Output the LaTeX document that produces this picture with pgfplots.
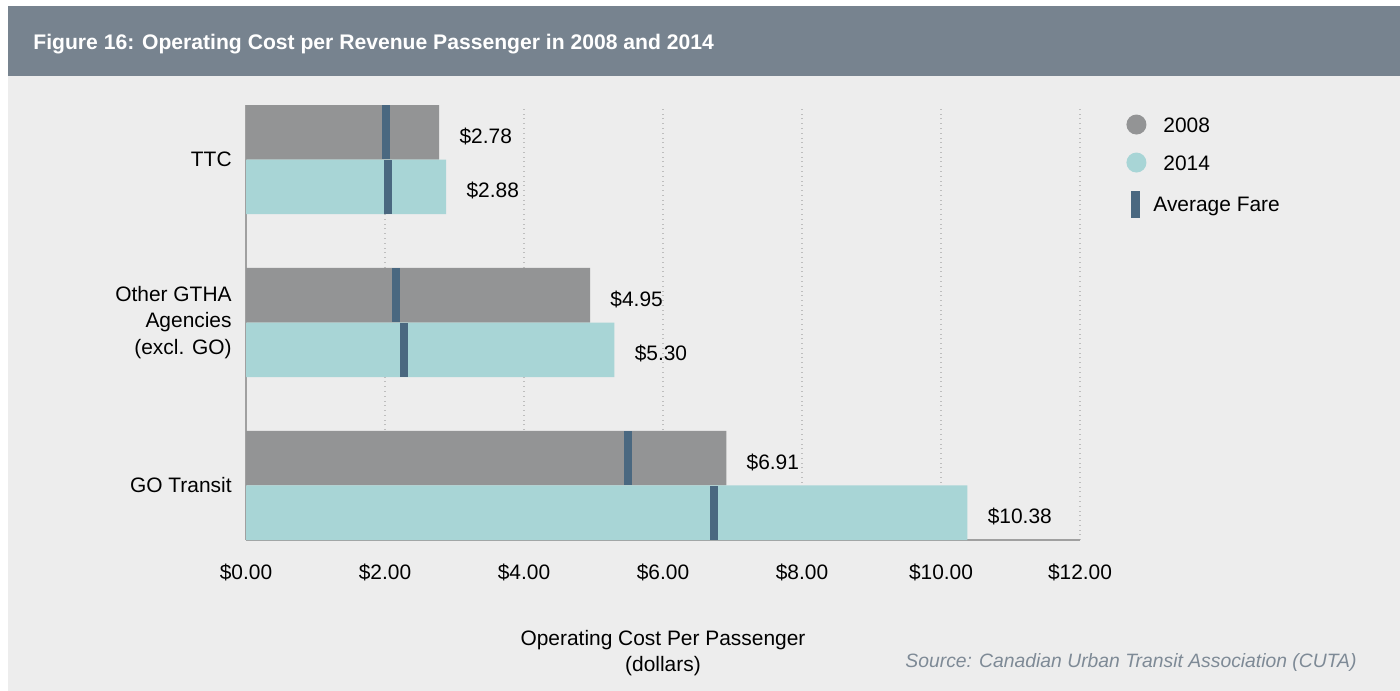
\documentclass[border=0pt]{standalone}
\usepackage{fontspec}
\setmainfont{Liberation Sans}
\usepackage{pgfplots}
\pgfplotsset{compat=1.18}

\definecolor{hdr}{RGB}{119,131,143}
\definecolor{bgc}{RGB}{237,237,237}
\definecolor{c08}{RGB}{147,148,149}
\definecolor{c14}{RGB}{168,213,214}
\definecolor{fare}{RGB}{74,104,128}
\definecolor{gridc}{RGB}{190,190,190}
\definecolor{axisc}{RGB}{160,160,160}
\definecolor{srcc}{RGB}{126,138,150}

% average fare tick: 8px wide, full bar height
\pgfdeclareplotmark{farebar}{%
  \pgfpathrectangle{\pgfpoint{-2bp}{-13.6bp}}{\pgfpoint{4bp}{27.2bp}}%
  \pgfusepathqfill}

\begin{document}
\begin{tikzpicture}
\useasboundingbox (0,0) rectangle (700bp,-345.5bp);
\fill[white] (0,0) rectangle (700bp,-345.5bp);
\fill[bgc] (4bp,-3bp) rectangle (700bp,-345.5bp);
\fill[hdr] (4bp,-3bp) rectangle (700bp,-38bp);
\node[anchor=base west, text=white, inner sep=0pt,
  font=\fontsize{10.6}{12}\selectfont\bfseries] at (16.5bp,-24.5bp)
  {Figure 16: Operating Cost per Revenue Passenger in 2008 and 2014};

\begin{axis}[
  at={(123bp,-270bp)}, anchor=south west,
  scale only axis, width=417bp, height=217.5bp,
  xmin=0, xmax=12, ymin=-0.335, ymax=2.335,
  clip=false,
  axis x line*=bottom, axis y line*=left,
  axis line style={draw=axisc, line width=0.6bp, -},
  xtick={0,2,...,12}, ytick={0,1,2},
  major tick length=0pt,
  xmajorgrids, ymajorgrids=false,
  major grid style={gridc, dotted, line width=0.6bp},
  /pgf/number format/assume math mode=true,
  xticklabel={\$\pgfmathprintnumber[fixed,fixed zerofill,precision=2]{\tick}},
  xticklabel style={anchor=base, inner sep=0pt, yshift=-19.5bp},
  yticklabels={GO Transit,{Other GTHA\\Agencies\\(excl. GO)},TTC},
  yticklabel style={anchor=east, inner sep=0pt, xshift=-7bp, align=right},
  ticklabel style={font=\fontsize{10.5}{13.5}\selectfont},
  xlabel={Operating Cost Per Passenger\\(dollars)},
  xlabel style={at={(axis description cs:0.5,0)}, anchor=north, inner sep=0pt,
    yshift=-45bp, align=center, font=\fontsize{10.5}{13}\selectfont},
  legend style={draw=none, fill=none, inner sep=0pt,
    at={(1.0552,0.979)}, anchor=north west,
    font=\fontsize{10.5}{12}\selectfont, row sep=9bp, column sep=0pt,
    nodes={inner sep=0pt, text height=7.6bp, text depth=0pt}},
  legend cell align=left,
  bar width=0.335, bar shift=0,
  nodes near coords style={anchor=west, inner sep=0pt, xshift=10bp, yshift=-2bp,
    font=\fontsize{10.5}{12}\selectfont, text=black},
]
% 2008 bars sit just above each category line, 2014 bars just below
\addplot[xbar, fill=c08, draw=none,
  legend image code/.code={\fill[c08] (5bp,0) circle (5bp); \path (13.5bp,0);},
  point meta=x, nodes near coords={\$\pgfmathprintnumber[fixed,fixed zerofill,precision=2]{\pgfplotspointmeta}}]
  coordinates {(6.91,0.1675) (4.95,1.1675) (2.78,2.1675)};
\addlegendentry{2008}
\addplot[xbar, fill=c14, draw=none,
  legend image code/.code={\fill[c14] (5bp,0) circle (5bp); \path (13.5bp,0);},
  point meta=x, nodes near coords={\$\pgfmathprintnumber[fixed,fixed zerofill,precision=2]{\pgfplotspointmeta}}]
  coordinates {(10.38,-0.1675) (5.30,0.8325) (2.88,1.8325)};
\addlegendentry{2014}
\addplot[only marks, mark=farebar, color=fare,
  legend image code/.code={\fill[fare] (2.5bp,-6.5bp) rectangle (6.5bp,6.5bp);}]
  coordinates {(2.01,2.1675) (2.05,1.8325) (2.16,1.1675) (2.28,0.8325)
               (5.49,0.1675) (6.74,-0.1675)};
\addlegendentry[xshift=-5bp]{Average Fare}
\end{axis}

\node[anchor=base east, inner sep=0pt, text=srcc,
  font=\fontsize{9.7}{11}\selectfont\itshape] at (678.5bp,-333.5bp)
  {Source: Canadian Urban Transit Association (CUTA)};
\end{tikzpicture}
\end{document}
